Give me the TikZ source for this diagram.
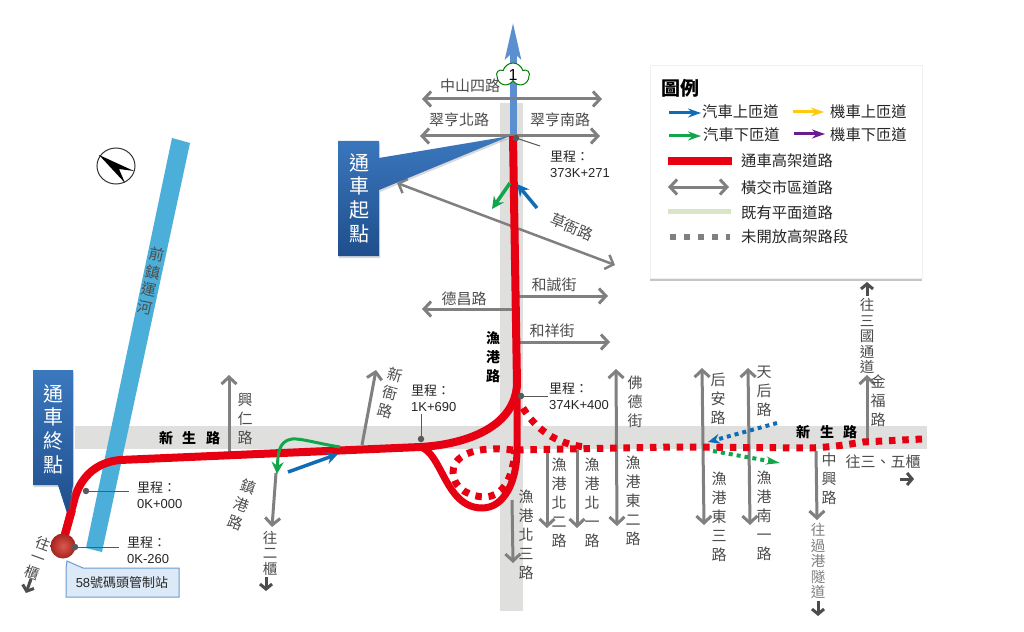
\documentclass[tikz,border=0pt]{standalone}
\usepackage{fontspec}
\setmainfont{Noto Sans CJK TC}
\newfontfamily\latinfont{Liberation Sans}
\usetikzlibrary{arrows.meta,shadows,shapes.symbols}
\definecolor{roadred}{HTML}{E60012}
\definecolor{roadgray}{HTML}{808080}
\definecolor{bandgray}{HTML}{DFDFDD}
\definecolor{labelgray}{HTML}{4D4D4D}
\definecolor{rampblue}{HTML}{0F6DB8}
\definecolor{rampgreen}{HTML}{12A64B}
\definecolor{riverblue}{HTML}{4BAFD9}
\definecolor{highwayblue}{HTML}{5B8FCF}
\definecolor{calltop}{HTML}{3B78BE}
\definecolor{callbottom}{HTML}{1F4E8C}
\definecolor{stationblue}{HTML}{DCE9F7}
\definecolor{stationline}{HTML}{6C9BD2}
\definecolor{ballinner}{HTML}{DB5A4E}
\definecolor{ballouter}{HTML}{A5231D}
\definecolor{lgyellow}{HTML}{FFC90E}
\definecolor{lgpurple}{HTML}{6A1B8E}
\definecolor{lggreen}{HTML}{D9E6C5}
\tikzset{
  crossroad/.style={draw=roadgray,line width=3pt,-{Straight Barb[length=7pt,width=15pt]}},
  crossboth/.style={crossroad,{Straight Barb[length=7pt,width=15pt]}-{Straight Barb[length=7pt,width=15pt]}},
  goarrow/.style={draw=labelgray,line width=3pt,-{Straight Barb[length=5pt,width=12pt]}},
  elevated/.style={draw=roadred,line width=8pt},
  unopened/.style={draw=roadred,line width=7pt,dash pattern=on 6.5pt off 6.8pt},
  ramp/.style={line width=3.5pt,-{Stealth[length=12pt,width=12pt]}},
  minidash/.style={line width=4pt,dash pattern=on 4pt off 4pt},
  roadname/.style={font=\fontsize{15}{19}\selectfont,align=center,text=labelgray,inner sep=0pt},
  goname/.style={font=\fontsize{14.5}{15.5}\selectfont,align=center,text=labelgray,inner sep=0pt},
  hname/.style={font=\fontsize{15}{15}\selectfont,text=labelgray,inner sep=0pt},
  mainroad/.style={font=\fontsize{14}{19}\selectfont\bfseries,text=black,inner sep=0pt},
  mileage/.style={font=\fontsize{13}{15.5}\selectfont,align=left,text=black!85,anchor=west,inner sep=0pt},
  leader/.style={draw=black!65,line width=1pt},
  leaderdot/.style={fill=black!65,circle,inner sep=0pt,minimum size=6.5pt},
  callout/.style={top color=calltop,bottom color=callbottom,drop shadow={opacity=.3,shadow xshift=1pt,shadow yshift=-2pt}},
  callname/.style={font=\fontsize{20}{23.7}\selectfont,align=center,text=white,inner sep=0pt},
  legendtext/.style={font=\fontsize{15.3}{15}\selectfont,text=black!85,anchor=west,inner sep=0pt},
  legendarrow/.style={line width=3pt,-{Stealth[length=13pt,width=9pt]}}
}
\begin{document}
\begin{tikzpicture}[x=1pt,y=-1pt]
\fill[white] (0,0) rectangle (1024,631);
\useasboundingbox (0,0) rectangle (1024,631);
% grey bands under the roads
\fill[bandgray] (75,426) rectangle (927,449);
\fill[bandgray] (500,103) rectangle (523,611);
% canal
\fill[riverblue] (172,138) -- (190,143) -- (102,552) -- (86,548) -- cycle;
\node[rotate=-12,font=\fontsize{15}{18}\selectfont,align=center,text=labelgray,inner sep=0pt] (canal) at (151,281) {前\\鎮\\運\\河};
% north mark
\draw[line width=1pt,black!80] (116,166) circle [x radius=19pt,y radius=18pt];
\fill[black] (99,155) -- (134,171) -- (119,169) -- (125,183) -- cycle;
% expressway to the north
\draw[draw=highwayblue,line width=7pt,-{Stealth[length=36pt,width=15pt,inset=6pt]}] (513,137) -- (513,22);
% cross roads
\draw[crossboth] (422,99) -- (602,99);
\draw[crossboth] (420,136) -- (600,136);
\draw[crossboth,line width=2.5pt] (397,183) -- (615,265);
\draw[crossroad] (518,296) -- (608,296);
\draw[crossroad] (512,309) -- (422,309);
\draw[crossroad] (518,342) -- (610,342);
\draw[crossroad] (229,452) -- (229,375);
\draw[crossroad] (362,445) -- (376,370);
\draw[crossboth] (616,369) -- (617,526);
\draw[crossroad] (547,450) -- (547,528);
\draw[crossroad] (577,450) -- (577,528);
\draw[crossroad] (512,500) -- (513,563);
\draw[crossboth] (702,368) -- (704,525);
\draw[crossboth] (748,368) -- (750,525);
\draw[crossroad] (816,451) -- (817,520);
\draw[crossroad] (867,441) -- (867,375);
\draw[crossroad] (276,473) -- (272,527);
% opened viaduct
\draw[elevated,line join=round] (64,538) -- (75,497) .. controls (82,475) and (98,462) .. (120,460) -- (420,447) .. controls (460,445) and (514,430) .. (517,385) -- (513,136);
\draw[elevated,line width=7pt] (420,447) .. controls (442,452) and (445,508) .. (482,508) .. controls (505,508) and (517,480) .. (517,450) -- (517,395);
% unopened viaduct
\draw[unopened] (517,450) -- (676,447) -- (810,448) .. controls (835,447) and (850,444) .. (863,442) -- (922,439);
\draw[unopened] (523,408) .. controls (535,428) and (555,444) .. (585,447);
\draw[unopened] (513,450) .. controls (470,445) and (452,458) .. (453,473) .. controls (454,490) and (472,497) .. (485,497) .. controls (505,496) and (513,475) .. (515,450);
% ramps
\draw[ramp,draw=rampgreen,line width=3pt] (340,447) .. controls (320,444) and (300,438) .. (292,439) .. controls (278,441) and (278,455) .. (277,474);
\draw[ramp,draw=rampblue] (288,472) -- (338,454);
\draw[ramp,draw=rampgreen] (510,183) -- (492,209);
\draw[ramp,draw=rampblue] (537,208) -- (517,184);
\draw[minidash,draw=rampblue,-{Stealth[length=12pt,width=10pt]}] (777,423) -- (708,442);
\draw[minidash,draw=rampgreen,-{Stealth[length=14pt,width=8pt]}] (713,451) -- (780,463);
% national highway mark
\node[cloud,cloud puffs=5,cloud puff arc=150,draw=green!50!black,fill=white,line width=1pt,minimum width=32pt,minimum height=24pt,inner sep=0pt] (nationalone) at (513,75) {};
\node[font=\fontsize{16}{16}\selectfont\latinfont,inner sep=0pt] (nationalnum) at (513,75) {1};
% callouts
\shade[callout] (338,141) -- (379,141) -- (379,158) -- (510,136) -- (379,190) -- (379,256) -- (338,256) -- cycle;
\node[callname] (startname) at (359,198) {通\\車\\起\\點};
\shade[callout] (33,370) -- (73,370) -- (73,485) -- (68,516) -- (58,485) -- (33,485) -- cycle;
\node[callname] (endname) at (53,429) {通\\車\\終\\點};
\draw[elevated] (64,538) -- (72,510);
% toll station
\fill[stationblue,draw=stationline,line width=1pt] (66,568) -- (67,561) -- (83,568) -- (179,568) -- (179,597) -- (66,597) -- cycle;
\node[font=\fontsize{13}{13}\selectfont,text=black!85,inner sep=0pt] (station) at (122,583) {{\latinfont 58}號碼頭管制站};
\shade[inner color=ballinner,outer color=ballouter] (63,546) circle (12.5pt);
% mileage marks
\draw[leader] (75,547) -- (119,547);
\node[leaderdot] (dotzero) at (75,547) {};
\node[mileage] (minus) at (127,550) {里程：\\{\latinfont 0K-260}};
\draw[leader] (86,491) -- (129,491);
\node[leaderdot] (dotstart) at (86,491) {};
\node[mileage] (zero) at (137,495) {里程：\\{\latinfont 0K+000}};
\draw[leader] (421,439) -- (421,414);
\node[leaderdot] (dotmid) at (421,439) {};
\node[mileage] (onek) at (411,398) {里程：\\{\latinfont 1K+690}};
\draw[leader] (521,396) -- (548,396);
\node[leaderdot] (dotend) at (521,396) {};
\node[mileage] (south) at (549,396) {里程：\\{\latinfont 374K+400}};
\draw[leader] (516,138) -- (540,146);
\node[leaderdot] (dottop) at (516,138) {};
\node[mileage] (north) at (550,164) {里程：\\{\latinfont 373K+271}};
% road names
\node[hname] (zhongshan) at (470,86) {中山四路};
\node[hname] (cuibei) at (459,120) {翠亨北路};
\node[hname] (cuinan) at (560,120) {翠亨南路};
\node[hname,rotate=-22] (caoya) at (572,227) {草衙路};
\node[hname] (hecheng) at (554,285) {和誠街};
\node[hname] (dechang) at (464,299) {德昌路};
\node[hname] (hexiang) at (552,331) {和祥街};
\node[mainroad,align=center] (yugang) at (493,357) {漁\\港\\路};
\node[mainroad] (xinw1) at (166,438) {新};
\node[mainroad] (xinw2) at (189,438) {生};
\node[mainroad] (xinw3) at (213,438) {路};
\node[mainroad] (xine1) at (803,432) {新};
\node[mainroad] (xine2) at (827,432) {生};
\node[mainroad] (xine3) at (850,432) {路};
\node[roadname] (xingren) at (245,419) {興\\仁\\路};
\node[roadname,rotate=-15] (xinya) at (390,393) {新\\衙\\路};
\node[roadname,rotate=-20] (zhengang) at (242,505) {鎮\\港\\路};
\node[roadname] (fode) at (635,402) {佛\\德\\街};
\node[roadname] (bei3) at (526,535) {漁\\港\\北\\三\\路};
\node[roadname] (bei2) at (559,503) {漁\\港\\北\\二\\路};
\node[roadname] (bei1) at (592,503) {漁\\港\\北\\一\\路};
\node[roadname] (dong2) at (633,501) {漁\\港\\東\\二\\路};
\node[roadname] (houan) at (718,399) {后\\安\\路};
\node[roadname] (dong3) at (719,517) {漁\\港\\東\\三\\路};
\node[roadname] (tianhou) at (764,391) {天\\后\\路};
\node[roadname] (nan1) at (764,516) {漁\\港\\南\\一\\路};
\node[roadname] (zhongxing) at (829,479) {中\\興\\路};
\node[roadname] (jinfu) at (878,401) {金\\福\\路};
% where the roads lead
\node[goname,text=roadgray] (guogang) at (818,561) {往\\過\\港\\隧\\道};
\draw[goarrow] (818,601) -- (818,616);
\node[hname] (sanwu) at (883,462) {往三、五櫃};
\draw[goarrow] (900,479) -- (914,479);
\node[goname] (sanguo) at (867,336) {往\\三\\國\\通\\道};
\draw[goarrow] (867,296) -- (867,282);
\node[goname] (wang2) at (270,553) {往\\二\\櫃};
\draw[goarrow] (266,577) -- (266,591);
\node[goname,rotate=-20] (wang1) at (38,558) {往\\一\\櫃};
\draw[goarrow] (31,579) -- (26,593);
% legend
\node[fill=white,draw=black!6,drop shadow={opacity=.45,shadow xshift=0pt,shadow yshift=-2pt},minimum width=272pt,minimum height=213pt,inner sep=0pt] (legendbox) at (786,172) {};
\node[font=\fontsize{19}{19}\selectfont\bfseries,text=black,inner sep=0pt] (legendtitle) at (680,88) {圖例};
\draw[legendarrow,draw=rampblue] (669,113) -- (701,113);
\node[legendtext] (lg1) at (702,112) {汽車上匝道};
\draw[legendarrow,draw=lgyellow] (793,112) -- (824,112);
\node[legendtext] (lg2) at (830,112) {機車上匝道};
\draw[legendarrow,draw=rampgreen] (669,136) -- (701,136);
\node[legendtext] (lg3) at (703,135) {汽車下匝道};
\draw[legendarrow,draw=lgpurple] (794,134) -- (825,134);
\node[legendtext] (lg4) at (830,135) {機車下匝道};
\draw[draw=roadred,line width=8pt] (668,161) -- (732,161);
\node[legendtext] (lg5) at (741,161) {通車高架道路};
\draw[crossboth] (668,187) -- (729,187);
\node[legendtext] (lg6) at (741,188) {橫交市區道路};
\draw[draw=lggreen,line width=5pt] (668,211) -- (731,211);
\node[legendtext] (lg7) at (741,213) {既有平面道路};
\draw[draw=roadgray,line width=6pt,dash pattern=on 6pt off 8pt] (670,237) -- (730,237);
\node[legendtext] (lg8) at (741,237) {未開放高架路段};
\end{tikzpicture}
\end{document}
